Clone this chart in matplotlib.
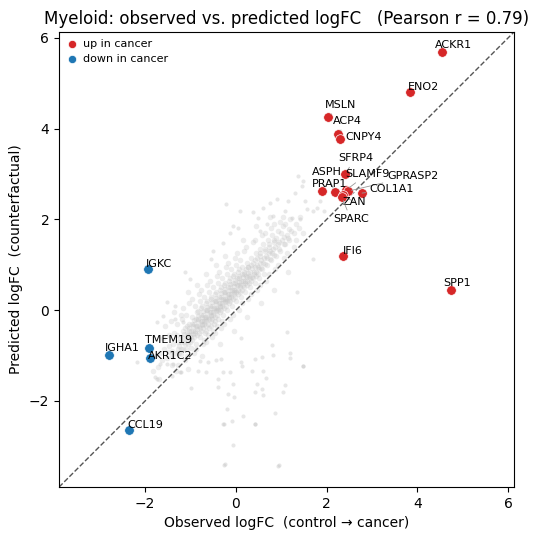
import matplotlib
matplotlib.use("Agg")
import matplotlib.pyplot as plt
import numpy as np

# highlighted genes: observed logFC, predicted logFC
up_genes = ["ACKR1", "ENO2", "MSLN", "ACP4", "CNPY4", "SFRP4", "ASPH", "SLAMF9",
            "GPRASP2", "PRAP1", "COL1A1", "ZAN", "SPARC", "IFI6", "SPP1"]
up_obs = [4.54, 3.83, 2.03, 2.25, 2.29, 2.40, 2.18, 2.42, 2.46, 1.89, 2.78, 2.36, 2.33, 2.36, 4.74]
up_pred = [5.68, 4.80, 4.25, 3.88, 3.77, 3.00, 2.60, 2.64, 2.62, 2.62, 2.58, 2.53, 2.50, 1.19, 0.44]

down_genes = ["IGKC", "TMEM19", "IGHA1", "AKR1C2", "CCL19"]
down_obs = [-1.94, -1.92, -2.80, -1.89, -2.36]
down_pred = [0.90, -0.84, -0.99, -1.06, -2.64]

# background genes: dense core
bg_core = [
    (-1.82, -1.35), (-1.78, -1.02), (-1.72, -1.25), (-1.68, -0.95), (-1.70, -1.52),
    (-1.62, -1.10), (-1.58, -0.85), (-1.61, -0.62), (-1.52, -1.05), (-1.48, -0.80),
    (-1.50, -0.92), (-1.47, -0.55), (-1.42, -1.00), (-1.38, -0.75), (-1.41, -0.90),
    (-1.37, -0.50), (-1.40, -1.22), (-1.32, -0.95), (-1.28, -0.70), (-1.31, -0.55),
    (-1.27, -0.85), (-1.30, -0.30), (-1.22, -0.85), (-1.18, -0.60), (-1.21, -0.70),
    (-1.17, -0.45), (-1.20, -0.97), (-1.19, -0.20), (-1.12, -0.75), (-1.08, -0.50),
    (-1.11, -0.65), (-1.07, -0.35), (-1.10, -0.86), (-1.06, -0.55), (-1.09, -0.10),
    (-1.02, -0.70), (-0.98, -0.45), (-1.01, -0.55), (-0.97, -0.30), (-1.00, -0.60),
    (-0.96, -0.15), (-0.99, -0.84), (-1.03, -0.40), (-0.92, -0.60), (-0.88, -0.35),
    (-0.91, -0.45), (-0.87, -0.20), (-0.90, -0.50), (-0.86, -0.05), (-0.89, -0.75),
    (-0.93, -0.30), (-0.90, 0.10), (-0.82, -0.50), (-0.78, -0.25), (-0.81, -0.35),
    (-0.77, -0.10), (-0.80, -0.40), (-0.76, 0.05), (-0.79, -0.60), (-0.83, -0.20),
    (-0.80, 0.20), (-0.75, -0.30), (-0.72, -0.40), (-0.68, -0.15), (-0.71, -0.25),
    (-0.67, 0.00), (-0.70, -0.30), (-0.66, 0.15), (-0.69, -0.50), (-0.73, -0.10),
    (-0.70, 0.30), (-0.65, -0.20), (-0.71, -0.65), (-0.62, -0.30), (-0.58, -0.05),
    (-0.61, -0.15), (-0.57, 0.10), (-0.60, -0.20), (-0.56, 0.25), (-0.59, -0.40),
    (-0.63, 0.00), (-0.60, 0.40), (-0.55, -0.10), (-0.61, -0.55), (-0.52, -0.20),
    (-0.48, 0.05), (-0.51, -0.05), (-0.47, 0.20), (-0.50, -0.10), (-0.46, 0.35),
    (-0.49, -0.30), (-0.53, 0.10), (-0.50, 0.50), (-0.45, 0.00), (-0.51, -0.45),
    (-0.42, -0.10), (-0.38, 0.15), (-0.41, 0.05), (-0.37, 0.30), (-0.40, 0.00),
    (-0.36, 0.45), (-0.39, -0.20), (-0.43, 0.20), (-0.40, 0.60), (-0.35, 0.10),
    (-0.41, -0.35), (-0.32, 0.00), (-0.28, 0.25), (-0.31, 0.15), (-0.27, 0.40),
    (-0.30, 0.10), (-0.26, 0.55), (-0.29, -0.10), (-0.33, 0.30), (-0.30, 0.70),
    (-0.25, 0.20), (-0.31, -0.25), (-0.22, 0.10), (-0.18, 0.35), (-0.21, 0.25),
    (-0.17, 0.50), (-0.20, 0.20), (-0.16, 0.65), (-0.19, 0.00), (-0.23, 0.40),
    (-0.20, 0.80), (-0.15, 0.30), (-0.12, 0.20), (-0.08, 0.45), (-0.11, 0.35),
    (-0.07, 0.60), (-0.10, 0.30), (-0.06, 0.75), (-0.09, 0.10), (-0.13, 0.50),
    (-0.10, 0.90), (-0.05, 0.40), (-0.02, 0.30), (0.02, 0.55), (-0.01, 0.45),
    (0.03, 0.70), (0.00, 0.40), (0.04, 0.85), (0.01, 0.20), (-0.03, 0.60),
    (0.00, 1.00), (0.08, 0.40), (0.12, 0.65), (0.09, 0.55), (0.13, 0.80),
    (0.10, 0.50), (0.14, 0.95), (0.11, 0.30), (0.07, 0.70), (0.10, 1.10),
    (0.18, 0.50), (0.22, 0.75), (0.19, 0.65), (0.23, 0.90), (0.20, 0.60),
    (0.24, 1.05), (0.21, 0.40), (0.17, 0.80), (0.28, 0.60), (0.32, 0.85),
    (0.29, 0.75), (0.33, 1.00), (0.30, 0.70), (0.34, 1.15), (0.31, 0.50),
    (0.27, 0.95), (0.38, 0.70), (0.42, 0.95), (0.39, 0.85), (0.43, 1.10),
    (0.40, 0.80), (0.44, 1.25), (0.41, 0.60), (0.48, 0.80), (0.52, 1.05),
    (0.49, 0.95), (0.53, 1.20), (0.50, 0.90), (0.54, 1.35), (0.51, 0.70),
    (0.58, 0.90), (0.62, 1.15), (0.59, 1.05), (0.63, 1.30), (0.60, 1.45),
    (0.61, 0.80), (0.68, 1.00), (0.72, 1.25), (0.69, 1.15), (0.73, 1.40),
    (0.70, 1.55), (0.78, 1.10), (0.82, 1.35), (0.79, 1.25), (0.83, 1.50),
    (0.80, 1.65), (0.88, 1.20), (0.92, 1.45), (0.89, 1.60), (0.93, 1.75),
    (0.98, 1.30), (1.02, 1.55), (0.99, 1.70), (1.03, 1.85), (1.08, 1.45),
    (1.12, 1.65), (1.09, 1.90), (1.18, 1.55), (1.22, 1.75), (1.19, 2.00),
    (1.28, 1.70), (1.32, 1.90), (1.38, 1.80), (1.42, 2.05),
    # second pass, between the columns
    (-1.25, -0.80), (-1.24, -0.62), (-1.26, -0.95), (-1.15, -0.70), (-1.14, -0.52),
    (-1.16, -0.85), (-1.13, -0.40), (-1.05, -0.62), (-1.04, -0.45), (-1.06, -0.75),
    (-1.03, -0.30), (-0.95, -0.52), (-0.94, -0.35), (-0.96, -0.65), (-0.93, -0.22),
    (-0.95, -0.45), (-0.85, -0.42), (-0.84, -0.25), (-0.86, -0.55), (-0.83, -0.12),
    (-0.85, -0.35), (-0.84, -0.02), (-0.75, -0.33), (-0.74, -0.15), (-0.76, -0.45),
    (-0.73, -0.03), (-0.75, -0.25), (-0.74, 0.10), (-0.65, -0.23), (-0.64, -0.05),
    (-0.66, -0.35), (-0.63, 0.07), (-0.65, -0.15), (-0.64, 0.20), (-0.66, -0.45),
    (-0.55, -0.13), (-0.54, 0.05), (-0.56, -0.25), (-0.53, 0.17), (-0.55, -0.05),
    (-0.54, 0.30), (-0.56, -0.35), (-0.45, -0.03), (-0.44, 0.15), (-0.46, -0.15),
    (-0.43, 0.27), (-0.45, 0.05), (-0.44, 0.40), (-0.46, -0.25), (-0.35, 0.07),
    (-0.34, 0.25), (-0.36, -0.05), (-0.33, 0.37), (-0.35, 0.15), (-0.34, 0.50),
    (-0.25, 0.17), (-0.24, 0.35), (-0.26, 0.05), (-0.23, 0.47), (-0.25, 0.25),
    (-0.24, 0.60), (-0.15, 0.27), (-0.14, 0.45), (-0.16, 0.15), (-0.13, 0.57),
    (-0.15, 0.35), (-0.14, 0.70), (-0.05, 0.36), (-0.04, 0.54), (-0.06, 0.25),
    (-0.03, 0.66), (-0.05, 0.45), (-0.04, 0.80), (0.05, 0.45), (0.06, 0.63),
    (0.04, 0.35), (0.07, 0.75), (0.05, 0.55), (0.06, 0.90), (0.15, 0.55),
    (0.16, 0.72), (0.14, 0.45), (0.17, 0.85), (0.15, 0.65), (0.25, 0.64),
    (0.26, 0.82), (0.24, 0.55), (0.27, 0.95), (0.25, 0.72), (0.35, 0.74),
    (0.36, 0.92), (0.34, 0.65), (0.37, 1.05), (0.45, 0.84), (0.46, 1.00),
    (0.44, 0.75), (0.47, 1.15), (0.55, 0.93), (0.56, 1.10), (0.54, 1.25),
    (0.65, 1.02), (0.66, 1.20), (0.64, 1.35), (0.75, 1.12), (0.76, 1.30),
    (0.74, 1.45), (0.85, 1.22), (0.86, 1.40), (0.84, 1.55), (0.95, 1.35),
    (0.96, 1.50), (1.05, 1.45), (1.06, 1.62), (1.15, 1.58), (1.16, 1.78),
]
# background genes: haze around the core
bg_halo = [
    (-1.57, -0.35), (-1.43, -0.25), (-1.37, -0.05), (-1.22, -0.10), (-1.17, 0.05),
    (-1.03, 0.15), (-0.97, 0.25), (-0.82, 0.35), (-0.77, 0.45), (-0.63, 0.55),
    (-0.57, 0.65), (-0.42, 0.75), (-0.37, 0.85), (-0.22, 0.95), (-0.17, 1.05),
    (-0.03, 1.15), (0.03, 1.25), (0.17, 1.30), (0.23, 1.40), (0.37, 1.50),
    (0.43, 1.55), (0.57, 1.65), (0.63, 1.70), (0.77, 1.80), (0.83, 1.90),
    (0.97, 1.95), (1.03, 2.05),
    (-1.33, -1.35), (-1.27, -1.20), (-1.13, -1.10), (-1.07, -1.00), (-0.93, -0.95),
    (-0.87, -0.85), (-0.73, -0.75), (-0.67, -0.70), (-0.53, -0.60), (-0.47, -0.50),
    (-0.33, -0.40), (-0.27, -0.30), (-0.13, -0.20), (-0.07, -0.10), (0.07, 0.00),
    (0.13, 0.15), (0.27, 0.25), (0.33, 0.35), (0.47, 0.45), (0.53, 0.55),
    (0.67, 0.65), (0.73, 0.80), (0.87, 0.90), (0.93, 1.00), (1.07, 1.15),
    (1.13, 1.25), (1.27, 1.40), (1.33, 1.55), (1.47, 1.70),
    (-1.05, 0.40), (-0.85, 0.55), (-0.65, 0.80), (-0.45, 1.00), (-0.25, 1.20),
    (0.15, 1.55), (0.45, 1.85), (0.75, 2.05), (-0.35, -0.75), (-0.05, -0.45),
    (0.25, -0.15), (0.55, 0.15), (0.85, 0.45), (1.15, 0.85), (-0.75, -1.00),
    (-1.05, -1.30),
]
# background genes: scattered ones away from the core
bg_sparse = [
    (0.79, -0.77), (0.82, -0.99), (1.19, -0.95), (1.19, -1.06), (1.48, -1.24),
    (0.42, -1.08), (0.57, -1.03), (0.12, -1.15), (0.14, -1.24), (0.36, -1.34),
    (0.60, -1.34), (0.66, -1.50), (-0.39, -1.52), (-0.13, -1.37), (-0.28, -1.36),
    (-0.06, -1.63), (0.46, -1.63), (0.57, -1.73), (1.08, -1.65), (1.03, -1.81),
    (0.42, -1.81), (0.60, -1.87), (-0.04, -1.92), (-0.17, -1.85), (-0.40, -1.70),
    (-1.00, -1.72), (-0.19, -2.18), (0.16, -2.34), (0.86, -2.27), (0.43, -2.51),
    (-0.08, -2.44), (-0.26, -2.52), (-0.06, -2.97), (-0.26, -3.41), (0.95, -3.41),
    (1.12, -0.49), (0.12, -0.62), (-0.79, -1.12), (-0.61, -1.15), (-0.83, -1.34),
    (-0.65, -1.36), (-0.43, -1.09), (-0.32, -1.08), (-1.20, -1.36), (-1.42, -1.45),
    (-1.78, -1.48), (-1.12, 0.83), (-1.01, 0.68), (-1.53, 0.17), (-1.34, 0.09),
    (-1.60, -0.13), (-1.75, -0.27), (-1.34, -0.20), (-1.16, -0.27), (-1.67, -1.19),
    (-1.53, -1.19), (-1.38, -1.19), (-1.23, -1.37), (-1.75, -1.52), (-2.19, -1.15),
    (-0.21, 2.33), (-0.28, 1.49), (-0.50, 1.31), (-0.54, 1.12), (-0.06, 1.86),
    (0.53, 1.75), (0.82, 2.08), (0.90, 2.44), (1.15, 2.41), (1.37, 2.96),
    (1.56, 2.22), (1.45, 2.74), (1.23, 2.04), (1.70, 1.12), (1.34, 0.39),
    (1.48, -1.23), (0.93, -3.43), (-0.24, -3.39), (0.42, -2.51), (-0.28, -2.51),
    (1.47, 2.85), (1.30, 2.59), (1.52, 2.41), (0.75, 2.37), (0.59, 2.26),
    (0.49, 2.04), (0.38, 2.17), (0.09, 2.19), (1.79, 2.26), (1.86, 2.41),
    (1.94, 2.19), (1.70, 2.19), (1.41, 2.00), (1.08, 2.19), (0.68, 1.89),
    (0.05, 1.82), (-0.13, 1.71),
]

pearson_r = 0.79

# label text anchors (data coords) for each highlighted gene
label_pos = {
    "ACKR1": (4.38, 5.77), "ENO2": (3.79, 4.85), "MSLN": (1.96, 4.45),
    "ACP4": (2.14, 4.10), "CNPY4": (2.42, 3.74), "SFRP4": (2.25, 3.28),
    "ASPH": (1.67, 2.97), "SLAMF9": (2.40, 2.93), "GPRASP2": (3.33, 2.89),
    "PRAP1": (1.67, 2.71), "COL1A1": (2.95, 2.60), "ZAN": (2.36, 2.31),
    "SPARC": (2.14, 1.94), "IFI6": (2.36, 1.23), "SPP1": (4.58, 0.53),
    "IGKC": (-1.98, 0.95), "TMEM19": (-2.00, -0.73), "IGHA1": (-2.89, -0.90),
    "AKR1C2": (-1.94, -1.08), "CCL19": (-2.40, -2.60),
}
with_line = {"MSLN", "ACP4", "SFRP4", "ASPH", "SLAMF9", "GPRASP2", "COL1A1", "ZAN", "SPARC"}

fig = plt.figure(figsize=(5.39, 5.40), dpi=100)
ax = fig.add_axes([0.1095, 0.098, 0.8441, 0.8427])

core = np.array(bg_core + bg_halo)
sparse = np.array(bg_sparse)
ax.scatter(core[:, 0], core[:, 1], s=16, color="#c4c4c4", alpha=0.3, linewidths=0, zorder=1)
ax.scatter(sparse[:, 0], sparse[:, 1], s=9, color="#bdbdbd", alpha=0.35, linewidths=0, zorder=1)

lims = (-3.9, 6.13)
ax.plot(lims, lims, ls="--", color="#555555", lw=1, zorder=2)

ax.scatter(up_obs, up_pred, s=48, color="#d62728", edgecolors="white", linewidths=0.5,
           zorder=3, label="up in cancer")
ax.scatter(down_obs, down_pred, s=48, color="#1f77b4", edgecolors="white", linewidths=0.5,
           zorder=3, label="down in cancer")

for names, xs, ys in [(up_genes, up_obs, up_pred), (down_genes, down_obs, down_pred)]:
    for g, x, y in zip(names, xs, ys):
        props = None
        if g in with_line:
            props = dict(arrowstyle="-", color="#999999", lw=0.6, shrinkA=1, shrinkB=3)
        ax.annotate(g, xy=(x, y), xytext=label_pos[g], textcoords="data",
                    fontsize=8, ha="left", va="baseline", zorder=4, arrowprops=props)

ax.set_xlim(lims)
ax.set_ylim(lims)
ax.set_xticks([-2, 0, 2, 4, 6])
ax.set_yticks([-2, 0, 2, 4, 6])
ax.set_xlabel("Observed logFC  (control \u2192 cancer)")
ax.set_ylabel("Predicted logFC  (counterfactual)")
ax.set_title("Myeloid: observed vs. predicted logFC   (Pearson r = %.2f)" % pearson_r, fontsize=12)
ax.legend(loc="upper left", frameon=False, fontsize=8, markerscale=0.85,
          handlelength=1.2, handletextpad=0.4, borderaxespad=0.2, labelspacing=0.5)

fig.savefig("out.png", dpi=100)
